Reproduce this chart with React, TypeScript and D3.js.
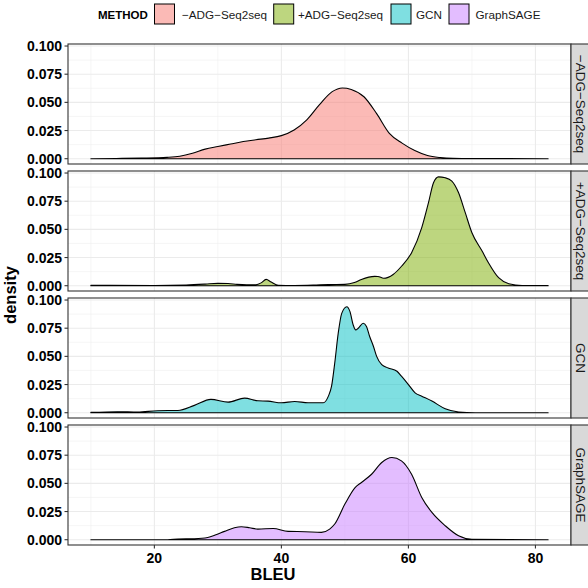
import React from "react";
import * as d3 from "d3";

const METHODS = ["\u2212ADG\u2212Seq2seq", "+ADG\u2212Seq2seq", "GCN", "GraphSAGE"];
const COLORS = ["#F8766D", "#7CAE00", "#00BFC4", "#C77CFF"];

const X_TICKS = [20, 40, 60, 80];
const X_MINOR = [10, 30, 50, 70];
const Y_TICKS = [0, 0.025, 0.05, 0.075, 0.1];
const Y_MINOR = [0.0125, 0.0375, 0.0625, 0.0875];

const minusX = [10, 14, 18, 22, 24, 26, 28, 30, 32, 34, 36, 38, 40, 42, 44, 46, 48, 49.6, 51, 53, 55, 57, 59, 61, 63, 65, 67, 70, 82];
const minusY = [0, 0.0002, 0.0005, 0.0012, 0.0022, 0.0048, 0.0085, 0.0108, 0.013, 0.0152, 0.0168, 0.0183, 0.0205, 0.0255, 0.0345, 0.048, 0.0595, 0.0628, 0.0615, 0.055, 0.04, 0.0225, 0.0138, 0.0072, 0.0028, 0.001, 0.0003, 0.0001, 0];

const plusX = [10, 13, 20, 25, 28, 30, 31.6, 33, 34.5, 36, 36.8, 37.6, 38.4, 39.5, 42, 45, 47.4, 50, 51.5, 52.6, 54.7, 55.2, 56.1, 57.6, 58.95, 60.5, 62.1, 63.16, 63.95, 64.74, 65.8, 66.84, 67.9, 68.95, 70, 71.6, 72.6, 74.2, 75.8, 77.9, 82];
const plusY = [0.0004, 0.0003, 0.0002, 0.0006, 0.0014, 0.0021, 0.002, 0.0012, 0.0008, 0.0009, 0.0025, 0.0056, 0.0032, 0.0004, 0.0002, 0.0005, 0.001, 0.0012, 0.0028, 0.0056, 0.0083, 0.0082, 0.0066, 0.01, 0.0175, 0.0293, 0.0515, 0.0737, 0.0914, 0.0966, 0.0958, 0.0929, 0.0825, 0.0648, 0.047, 0.0308, 0.0204, 0.0071, 0.0018, 0.0002, 0.0002];

const gcnX = [10, 14.2, 17.4, 20.5, 23.7, 26.3, 28.9, 31.6, 34.2, 36.3, 37.9, 40, 42.1, 44.2, 46.6, 47.4, 47.9, 48.4, 48.95, 49.5, 50.3, 50.8, 51.3, 51.7, 52.1, 52.9, 53.4, 53.9, 54.5, 55, 55.8, 56.8, 58.2, 58.9, 60, 61.05, 62.1, 63.7, 65.8, 67.9, 70.5, 82];
const gcnY = [0.0003, 0.0009, 0.0006, 0.0018, 0.002, 0.0065, 0.0118, 0.0094, 0.0129, 0.0106, 0.0103, 0.0088, 0.01, 0.0088, 0.0088, 0.0147, 0.0235, 0.0441, 0.0706, 0.0882, 0.0941, 0.0897, 0.078, 0.0735, 0.075, 0.0794, 0.0765, 0.0676, 0.0588, 0.05, 0.0426, 0.0397, 0.0368, 0.0324, 0.025, 0.0176, 0.0147, 0.0103, 0.0035, 0.0006, 0, 0];

const sageX = [10, 22.1, 23.7, 26.3, 28.4, 29.7, 31.05, 32.6, 33.7, 35, 36.3, 38.7, 41.05, 43.7, 46.3, 47.6, 48.4, 50, 51.6, 52.6, 54.2, 55.8, 57.4, 58.9, 60.5, 62.1, 63.7, 65.8, 67.9, 70, 82];
const sageY = [0, 0, 0.0006, 0.0009, 0.002, 0.0044, 0.0074, 0.0106, 0.0115, 0.0106, 0.0094, 0.01, 0.0074, 0.0071, 0.0065, 0.0094, 0.0139, 0.0316, 0.0463, 0.0508, 0.0581, 0.0685, 0.0729, 0.07, 0.0581, 0.0375, 0.0242, 0.0124, 0.0035, 0.0003, 0];

const SERIES_X = [minusX, plusX, gcnX, sageX];
const SERIES_Y = [minusY, plusY, gcnY, sageY];

const FONT = "'Liberation Sans', Arial, Helvetica, sans-serif";

export default function App() {
  const W = 588, H = 588;
  const left = 68, right = 571;
  const top0 = 44, panelH = 120, step = 127;
  const x = d3.scaleLinear().domain([6.4, 85.6]).range([left, right]);

  return (
    <svg width={W} height={H} style={{ position: "absolute", left: 0, top: 0, background: "#fff" }} fontFamily={FONT}>
      <rect x={0} y={0} width={W} height={H} fill="#fff" />
      {/* legend */}
      <text x={98} y={18.5} fontSize={11.5} fontWeight="bold" fill="#000">METHOD</text>
      {METHODS.map((m, i) => {
        const bx = [154.5, 273.7, 391, 449][i];
        const tx = [182, 298, 416, 475.5][i];
        return (
          <g key={m}>
            <rect x={bx} y={4} width={20} height={20} fill={COLORS[i]} fillOpacity={0.5} stroke="#000" strokeWidth={1} />
            <text x={tx} y={18.5} fontSize={11.7} fill="#1a1a1a">{m}</text>
          </g>
        );
      })}
      {METHODS.map((m, i) => {
        const top = top0 + i * step;
        const bottom = top + panelH;
        const y = d3.scaleLinear().domain([-0.0047, 0.1018]).range([bottom, top]);
        const pts: [number, number][] = SERIES_X[i].map((v, j) => [v, SERIES_Y[i][j]]);
        const area = d3.area<[number, number]>()
          .x(d => x(d[0]))
          .y0(y(0))
          .y1(d => y(d[1]))
          .curve(d3.curveMonotoneX);
        return (
          <g key={m}>
            <rect x={left} y={top} width={right - left} height={panelH} fill="#fff" />
            {Y_MINOR.map(t => (
              <line key={"ym" + t} x1={left} x2={right} y1={y(t)} y2={y(t)} stroke="#f0f0f0" strokeWidth={0.6} />
            ))}
            {X_MINOR.map(t => (
              <line key={"xm" + t} x1={x(t)} x2={x(t)} y1={top} y2={bottom} stroke="#f0f0f0" strokeWidth={0.6} />
            ))}
            {Y_TICKS.map(t => (
              <line key={"yg" + t} x1={left} x2={right} y1={y(t)} y2={y(t)} stroke="#ebebeb" strokeWidth={1.1} />
            ))}
            {X_TICKS.map(t => (
              <line key={"xg" + t} x1={x(t)} x2={x(t)} y1={top} y2={bottom} stroke="#ebebeb" strokeWidth={1.1} />
            ))}
            <path d={area(pts) || ""} fill={COLORS[i]} fillOpacity={0.5} stroke="#000" strokeWidth={1.1} strokeLinejoin="round" />
            <rect x={left} y={top} width={right - left} height={panelH} fill="none" stroke="#333" strokeWidth={1.1} />
            {Y_TICKS.map(t => (
              <g key={"yt" + t}>
                <line x1={left - 3.5} x2={left} y1={y(t)} y2={y(t)} stroke="#333" strokeWidth={1.1} />
                <text x={62} y={y(t)} dy="0.36em" textAnchor="end" fontSize={14} fontWeight="bold" fill="#000">
                  {t.toFixed(3)}
                </text>
              </g>
            ))}
            <rect x={right} y={top} width={24} height={panelH} fill="#d9d9d9" stroke="#333" strokeWidth={1.1} />
            <text
              transform={`translate(${580.5},${top + panelH / 2}) rotate(90)`}
              textAnchor="middle"
              dy="0.35em"
              fontSize={13.5}
              fill="#1a1a1a"
            >
              {m}
            </text>
          </g>
        );
      })}
      {X_TICKS.map(t => (
        <g key={"xt" + t}>
          <line x1={x(t)} x2={x(t)} y1={top0 + 3 * step + panelH} y2={top0 + 3 * step + panelH + 3.5} stroke="#333" strokeWidth={1.1} />
          <text x={x(t)} y={562.7} textAnchor="middle" fontSize={14} fontWeight="bold" fill="#000">{t}</text>
        </g>
      ))}
      <text x={273} y={580} textAnchor="middle" fontSize={16.5} fontWeight="bold" fill="#000">BLEU</text>
      <text transform="translate(15.5,295) rotate(-90)" textAnchor="middle" fontSize={16.5} fontWeight="bold" fill="#000">density</text>
    </svg>
  );
}
